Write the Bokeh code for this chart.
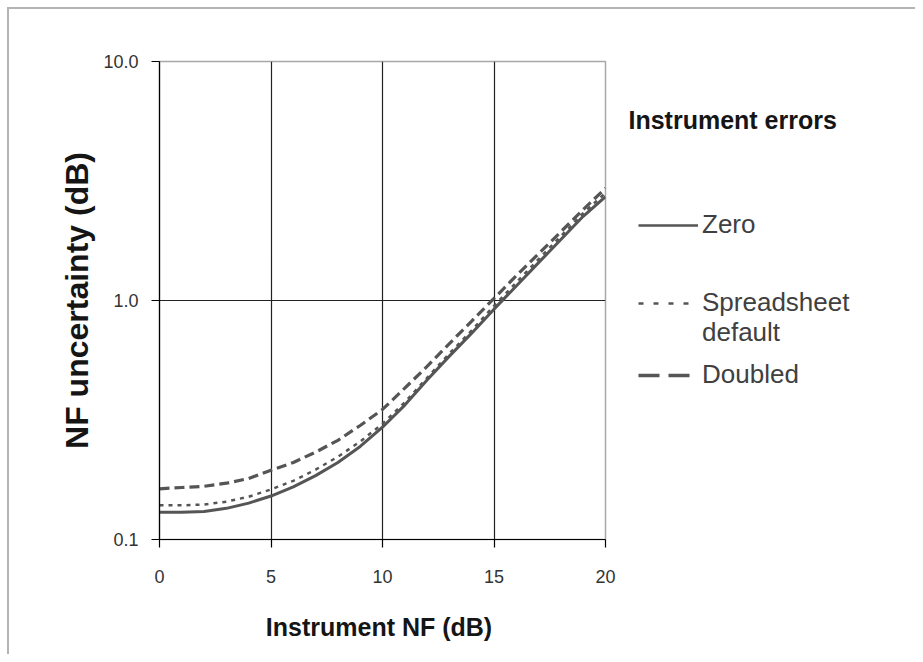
from bokeh.plotting import figure
from bokeh.layouts import row
from bokeh.models import (Legend, LegendItem, FixedTicker, PrintfTickFormatter,
                          Range1d, Label)
from bokeh.embed import file_html
from bokeh.resources import INLINE

# ---- data ----
instrument_nf = [0, 1, 2, 3, 4, 5, 6, 7, 8, 9, 10, 11, 12, 13, 14, 15, 16, 17, 18, 19, 20]
zero = [0.130, 0.130, 0.131, 0.135, 0.142, 0.152, 0.166, 0.185, 0.210, 0.245, 0.295,
        0.365, 0.465, 0.585, 0.730, 0.920, 1.15, 1.44, 1.80, 2.25, 2.72]
spreadsheet_default = [0.139, 0.139, 0.140, 0.144, 0.151, 0.162, 0.176, 0.196, 0.222, 0.257, 0.305,
                       0.375, 0.475, 0.600, 0.750, 0.950, 1.19, 1.49, 1.86, 2.32, 2.82]
doubled = [0.163, 0.165, 0.167, 0.172, 0.180, 0.195, 0.210, 0.232, 0.260, 0.300, 0.350,
           0.430, 0.530, 0.660, 0.820, 1.02, 1.27, 1.57, 1.94, 2.40, 2.95]
x_ticks = [0, 5, 10, 15, 20]
y_ticks = [0.1, 1, 10]
x_title = "Instrument NF  (dB)"
y_title = "NF uncertainty (dB)"
legend_title = "Instrument errors"
series_labels = ["Zero", "Spreadsheet", "default", "Doubled"]

FONT = "Liberation Sans"
LINE_COL = "#555555"
ZERO_STYLE = dict(line_color=LINE_COL, line_width=3)
SPREAD_STYLE = dict(line_color=LINE_COL, line_width=2.5, line_dash="4 5")
DOUBLED_STYLE = dict(line_color=LINE_COL, line_width=3.2, line_dash="10 5")

# ---- main chart ----
p = figure(width=616, height=645, x_range=Range1d(0, 20), y_range=Range1d(0.1, 10),
           y_axis_type="log", output_backend="svg", toolbar_location=None,
           min_border_left=150, min_border_right=20, min_border_top=52, min_border_bottom=115)
p.background_fill_color = "white"
p.border_fill_color = "white"
p.outline_line_color = "#a8a8a8"
p.outline_line_width = 1.5

for ax in (p.xaxis[0], p.yaxis[0]):
    ax.axis_line_color = "black"
    ax.axis_line_width = 1.2
    ax.major_tick_line_color = "black"
    ax.major_tick_line_width = 1.2
    ax.major_tick_out = 8
    ax.major_tick_in = 0
    ax.minor_tick_line_color = None
    ax.major_label_text_font = FONT
    ax.major_label_text_font_size = "18px"
    ax.major_label_text_color = "#333333"
    ax.axis_label_text_font = FONT
    ax.axis_label_text_font_style = "bold"
    ax.axis_label_text_color = "#151515"

p.xaxis.ticker = FixedTicker(ticks=x_ticks)
p.yaxis.ticker = FixedTicker(ticks=y_ticks)
p.yaxis.formatter = PrintfTickFormatter(format="%.1f")
p.xaxis.major_label_standoff = 22
p.yaxis.major_label_standoff = 13
p.xaxis.axis_label = x_title
p.yaxis.axis_label = y_title
p.xaxis.axis_label_text_font_size = "25px"
p.yaxis.axis_label_text_font_size = "32px"
p.xaxis.axis_label_standoff = 27
p.yaxis.axis_label_standoff = 5

p.xgrid.ticker = FixedTicker(ticks=x_ticks[1:-1])
p.ygrid.ticker = FixedTicker(ticks=[y_ticks[1]])
p.xgrid.grid_line_color = "#222222"
p.ygrid.grid_line_color = "#222222"
p.xgrid.grid_line_width = 1.2
p.ygrid.grid_line_width = 1.2

p.line(instrument_nf, zero, **ZERO_STYLE)
p.line(instrument_nf, spreadsheet_default, **SPREAD_STYLE)
p.line(instrument_nf, doubled, **DOUBLED_STYLE)

# ---- legend panel (its frame is aligned with the chart's frame by the row) ----
lp = figure(width=290, height=645, output_backend="svg", toolbar_location=None,
            x_range=Range1d(-100, -99), y_range=Range1d(-100, -99),
            x_axis_location=None, y_axis_location=None,
            min_border_left=0, min_border_right=0, min_border_top=52, min_border_bottom=115)
lp.grid.visible = False
lp.outline_line_color = None
lp.background_fill_color = "white"
lp.border_fill_color = "white"

# out-of-view copies of the series, used only as legend glyph sources
lr_zero = lp.line(instrument_nf, zero, line_color=LINE_COL, line_width=2.6)
lr_spread = lp.line(instrument_nf, spreadsheet_default, line_color=LINE_COL, line_width=2.5,
                    line_dash="5 10", line_dash_offset=0)
lr_dummy = lp.line(instrument_nf, zero, line_alpha=0)
lr_doubled = lp.line(instrument_nf, doubled, line_color=LINE_COL, line_width=3.5,
                     line_dash="21 9")


def make_legend(label, renderer, loc):
    lg = Legend(items=[LegendItem(label=label, renderers=[renderer])], location=loc)
    lg.padding = 0
    lg.margin = 0
    lg.border_line_color = None
    lg.background_fill_alpha = 0
    lg.glyph_width = 60
    lg.glyph_height = 30
    lg.label_height = 30
    lg.label_standoff = 4
    lg.label_text_font = FONT
    lg.label_text_font_size = "26px"
    lg.label_text_color = "#404040"
    return lg


lp.add_layout(make_legend(series_labels[0], lr_zero, (13, 299)))
lp.add_layout(make_legend(series_labels[1], lr_spread, (13, 221)))
lp.add_layout(make_legend(series_labels[2], lr_dummy, (13, 191)))
lp.add_layout(make_legend(series_labels[3], lr_doubled, (13, 149)))

lp.add_layout(Label(x=3, y=420, x_units="screen", y_units="screen", text=legend_title,
                    text_font=FONT, text_font_style="bold", text_font_size="25px",
                    text_color="#151515", text_baseline="middle", text_align="left"))

layout = row(p, lp)
layout.styles = {"margin-left": "7px", "margin-top": "7px",
                 "border-left": "2px solid #b4b4b4", "border-top": "2px solid #b4b4b4"}

open("out.html", "w").write(file_html(layout, INLINE))
